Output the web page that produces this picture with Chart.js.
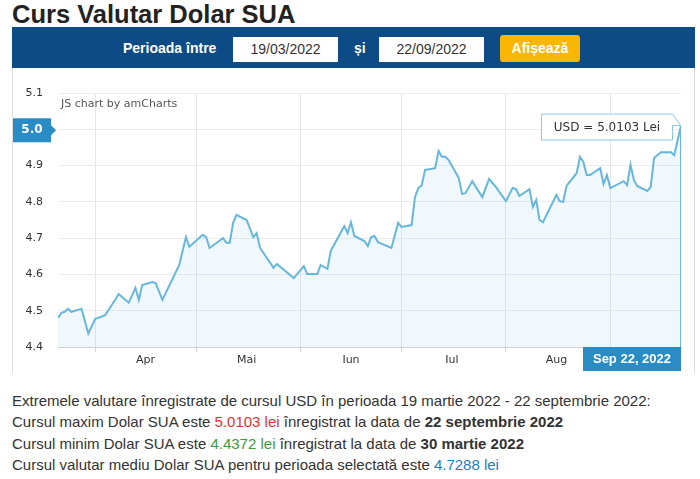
<!DOCTYPE html>
<html>
<head>
<meta charset="utf-8">
<script src="https://cdn.jsdelivr.net/npm/chart.js@4"></script>
<style>
  body { margin: 0; width: 700px; height: 479px; background: #fff; font-family: "Liberation Sans", Arial, sans-serif; color: #333; position: relative; overflow: hidden; }
  .title { position: absolute; left: 12px; top: 0px; font-size: 25.5px; font-weight: bold; color: #222; }
  .bar { position: absolute; left: 12px; top: 27px; width: 683px; height: 41px; background: #0d4b86; }
  .lbl { position: absolute; top: 40px; color: #fff; font-weight: bold; font-size: 14px; }
  .inp { position: absolute; top: 37px; width: 105px; height: 25px; background: #fff; color: #333; font-size: 14px; text-align: center; line-height: 25px; }
  .btn { position: absolute; left: 500px; top: 35px; width: 80px; height: 27px; background: #f9b701; border-radius: 3px; color: #fff; font-weight: bold; font-size: 14px; text-align: center; line-height: 27px; }
  #chartBox { position: absolute; left: 12px; top: 68px; width: 683px; height: 305px; border-left: 1px solid #ddd; border-right: 1px solid #ddd; box-sizing: border-box; }
  .info { position: absolute; left: 12px; top: 390px; font-size: 15px; line-height: 21.3px; color: #333; }
  .red { color: #e03232; } .green { color: #3c9a3c; } .blue { color: #1f7bbf; }
</style>
</head>
<body>
<div class="title">Curs Valutar Dolar SUA</div>
<div class="bar"></div>
<div class="lbl" style="left:123px">Perioada între</div>
<div class="inp" style="left:233px">19/03/2022</div>
<div class="lbl" style="left:354px">și</div>
<div class="inp" style="left:379px">22/09/2022</div>
<div class="btn">Afișează</div>
<div id="chartBox"><canvas id="usdChart"></canvas></div>
<div class="info">
  Extremele valutare înregistrate de cursul USD în perioada 19 martie 2022 - 22 septembrie 2022:<br>
  Cursul maxim Dolar SUA este <span class="red">5.0103 lei</span> înregistrat la data de <b>22 septembrie 2022</b><br>
  Cursul minim Dolar SUA este <span class="green">4.4372 lei</span> înregistrat la data de <b>30 martie 2022</b><br>
  Cursul valutar mediu Dolar SUA pentru perioada selectată este <span class="blue">4.7288 lei</span>
</div>
<script>
// dates (2022, MM-DD) and USD/RON rate
const dates = [
  '03-21','03-22','03-23','03-24','03-25','03-28','03-30','04-01','04-04','04-05',
  '04-07','04-08','04-11','04-13','04-14','04-15','04-18','04-19','04-21','04-26',
  '04-28','04-29','05-03','05-04','05-05','05-09','05-10','05-11','05-12','05-13',
  '05-16','05-18','05-19','05-20','05-24','05-25','05-30','06-02','06-03','06-06',
  '06-07','06-09','06-10','06-14','06-15','06-16','06-17','06-20','06-21','06-22',
  '06-23','06-24','06-28','06-30','07-01','07-04','07-05','07-06','07-07','07-08',
  '07-11','07-12','07-13','07-14','07-15','07-18','07-19','07-20','07-22','07-25',
  '07-27','07-29','08-01','08-03','08-04','08-05','08-08','08-09','08-10','08-11',
  '08-12','08-16','08-17','08-18','08-19','08-22','08-23','08-24','08-25','08-26',
  '08-29','08-30','08-31','09-01','09-05','09-06','09-07','09-08','09-09','09-12',
  '09-13','09-14','09-16','09-19','09-20','09-22'
];
const rates = [
  4.4800, 4.4940, 4.4970, 4.5050, 4.4970, 4.5050, 4.4372, 4.4770, 4.4880, 4.5020,
  4.5300, 4.5460, 4.5220, 4.5630, 4.5300, 4.5710, 4.5790, 4.5760, 4.5300, 4.6260,
  4.7030, 4.6760, 4.7090, 4.7030, 4.6730, 4.7000, 4.6870, 4.6870, 4.7420, 4.7640,
  4.7500, 4.7030, 4.7140, 4.6730, 4.6180, 4.6290, 4.5900, 4.6230, 4.6010, 4.6010,
  4.6260, 4.6150, 4.6650, 4.7330, 4.7140, 4.7440, 4.7060, 4.6920, 4.6780, 4.7030,
  4.7060, 4.6890, 4.6730, 4.7420, 4.7310, 4.7360, 4.8130, 4.8380, 4.8460, 4.8880,
  4.8930, 4.9400, 4.9240, 4.9240, 4.9150, 4.8660, 4.8220, 4.8240, 4.8570, 4.8130,
  4.8630, 4.8410, 4.8020, 4.8380, 4.8350, 4.8160, 4.8350, 4.7860, 4.8050, 4.7500,
  4.7440, 4.8190, 4.8020, 4.8000, 4.8440, 4.8790, 4.9240, 4.9100, 4.8740, 4.8740,
  4.8930, 4.8490, 4.8740, 4.8380, 4.8570, 4.8460, 4.9020, 4.8600, 4.8440, 4.8300,
  4.8410, 4.9210, 4.9370, 4.9370, 4.9290, 5.0103
];
const monthNames = ['Apr', 'Mai', 'Iun', 'Iul', 'Aug'];
const monthNums = [4, 5, 6, 7, 8];
const yTicks = [4.4, 4.5, 4.6, 4.7, 4.8, 4.9, 5.0, 5.1];
const cursorLabel = 'Sep 22, 2022';
const balloonText = 'USD = 5.0103 Lei';

// day of year for a 2022 date
function dayOf(m, d) {
  return (Date.UTC(2022, m - 1, d) - Date.UTC(2022, 0, 0)) / 86400000;
}
function dayFromStr(s) {
  const p = s.split('-');
  return dayOf(+p[0], +p[1]);
}

const points = dates.map((d, i) => ({ x: dayFromStr(d), y: rates[i] }));
const xMin = points[0].x;
const xMax = points[points.length - 1].x;

// grid at month starts, labels at mid month
const monthStarts = [4, 5, 6, 7, 8, 9].map(m => dayOf(m, 1));
const monthMids = monthNums.map(m => dayOf(m, 16));
const lineColor = '#67b7dc';
const cursorColor = '#2a8cc4';

const overlayPlugin = {
  id: 'overlay',
  afterDraw(chart) {
    const ctx = chart.ctx;
    const xs = chart.scales.x, ys = chart.scales.y;
    const last = points[points.length - 1];
    const px = xs.getPixelForValue(last.x);
    const py = ys.getPixelForValue(last.y);
    ctx.save();

    // watermark
    ctx.fillStyle = '#555';
    ctx.font = '11px "DejaVu Sans", Verdana, sans-serif';
    ctx.textAlign = 'left';
    ctx.textBaseline = 'middle';
    ctx.fillText('JS chart by amCharts', chart.chartArea.left + 3, chart.chartArea.top + 11);

    // cursor vertical line
    ctx.strokeStyle = lineColor;
    ctx.lineWidth = 1;
    ctx.beginPath();
    ctx.moveTo(px - 0.5, py);
    ctx.lineTo(px - 0.5, chart.chartArea.bottom);
    ctx.stroke();

    // y value box
    const yc = ys.getPixelForValue(5.0) + 1;
    ctx.fillStyle = cursorColor;
    ctx.fillRect(0, yc - 12, 38, 24);
    ctx.beginPath();
    ctx.moveTo(38, yc - 5);
    ctx.lineTo(43, yc);
    ctx.lineTo(38, yc + 5);
    ctx.fill();
    ctx.fillStyle = '#fff';
    ctx.font = 'bold 12px "DejaVu Sans", Verdana, sans-serif';
    ctx.textAlign = 'center';
    ctx.fillText(last.y.toFixed(1), 19, yc);

    // x date box
    const bw = 98;
    const bTop = chart.chartArea.bottom;
    ctx.fillStyle = cursorColor;
    ctx.fillRect(px - bw, bTop, bw, chart.height - bTop - 2);
    ctx.fillStyle = '#fff';
    ctx.font = 'bold 13px "Liberation Sans", Arial, sans-serif';
    ctx.fillText(cursorLabel, px - bw / 2, bTop + 12);

    // balloon
    const tw = 132, th = 27;
    const bx = px - 8 - tw, by = py - 12;
    ctx.fillStyle = '#fff';
    ctx.strokeStyle = '#8cc8e6';
    ctx.beginPath();
    ctx.moveTo(bx + 0.5, by + 0.5);
    ctx.lineTo(bx + tw - 0.5, by + 0.5);
    ctx.lineTo(px - 0.5, py);
    ctx.lineTo(bx + tw - 0.5, by + 12);
    ctx.lineTo(bx + tw - 0.5, by + th - 0.5);
    ctx.lineTo(bx + 0.5, by + th - 0.5);
    ctx.closePath();
    ctx.fill();
    ctx.stroke();
    ctx.fillStyle = '#333';
    ctx.font = '12px "DejaVu Sans", Verdana, sans-serif';
    ctx.textAlign = 'center';
    ctx.fillText(balloonText, bx + tw / 2, by + th / 2 + 1);
    ctx.restore();
  }
};

new Chart(document.getElementById('usdChart').getContext('2d'), {
  type: 'line',
  data: {
    datasets: [{
      label: 'USD',
      data: points,
      borderColor: lineColor,
      borderWidth: 2,
      backgroundColor: 'rgba(103, 183, 220, 0.1)',
      fill: 'start',
      pointRadius: 0,
      tension: 0
    }]
  },
  options: {
    responsive: true,
    maintainAspectRatio: false,
    animation: false,
    layout: { padding: { top: 25, right: 13, left: 0, bottom: 0 } },
    plugins: { legend: { display: false }, tooltip: { enabled: false } },
    scales: {
      x: {
        type: 'linear',
        min: xMin,
        max: xMax,
        afterBuildTicks: scale => {
          scale.ticks = monthStarts.concat(monthMids).sort((a, b) => a - b).map(v => ({ value: v }));
        },
        afterFit: scale => { scale.height = 26; },
        grid: {
          color: ctx => (ctx.tick && monthStarts.includes(ctx.tick.value)) ? '#e6e6e6' : 'rgba(0,0,0,0)',
          tickColor: ctx => (ctx.tick && monthStarts.includes(ctx.tick.value)) ? '#cfcfcf' : 'rgba(0,0,0,0)',
          tickLength: 5
        },
        border: { color: '#cfcfcf' },
        ticks: {
          autoSkip: false,
          maxRotation: 0,
          padding: 2,
          color: '#333',
          font: { family: '"DejaVu Sans", Verdana, sans-serif', size: 11 },
          callback: v => {
            const i = monthMids.indexOf(v);
            return i >= 0 ? monthNames[i] : '';
          }
        }
      },
      y: {
        min: 4.4,
        max: 5.1,
        afterBuildTicks: scale => { scale.ticks = yTicks.map(v => ({ value: v })); },
        afterFit: scale => { scale.width = 45; },
        grid: { color: '#ececec', drawTicks: false },
        border: { display: false },
        ticks: {
          padding: 15,
          color: '#333',
          font: { family: '"DejaVu Sans", Verdana, sans-serif', size: 11 },
          callback: v => v.toFixed(1)
        }
      }
    }
  },
  plugins: [overlayPlugin]
});
</script>
</body>
</html>
